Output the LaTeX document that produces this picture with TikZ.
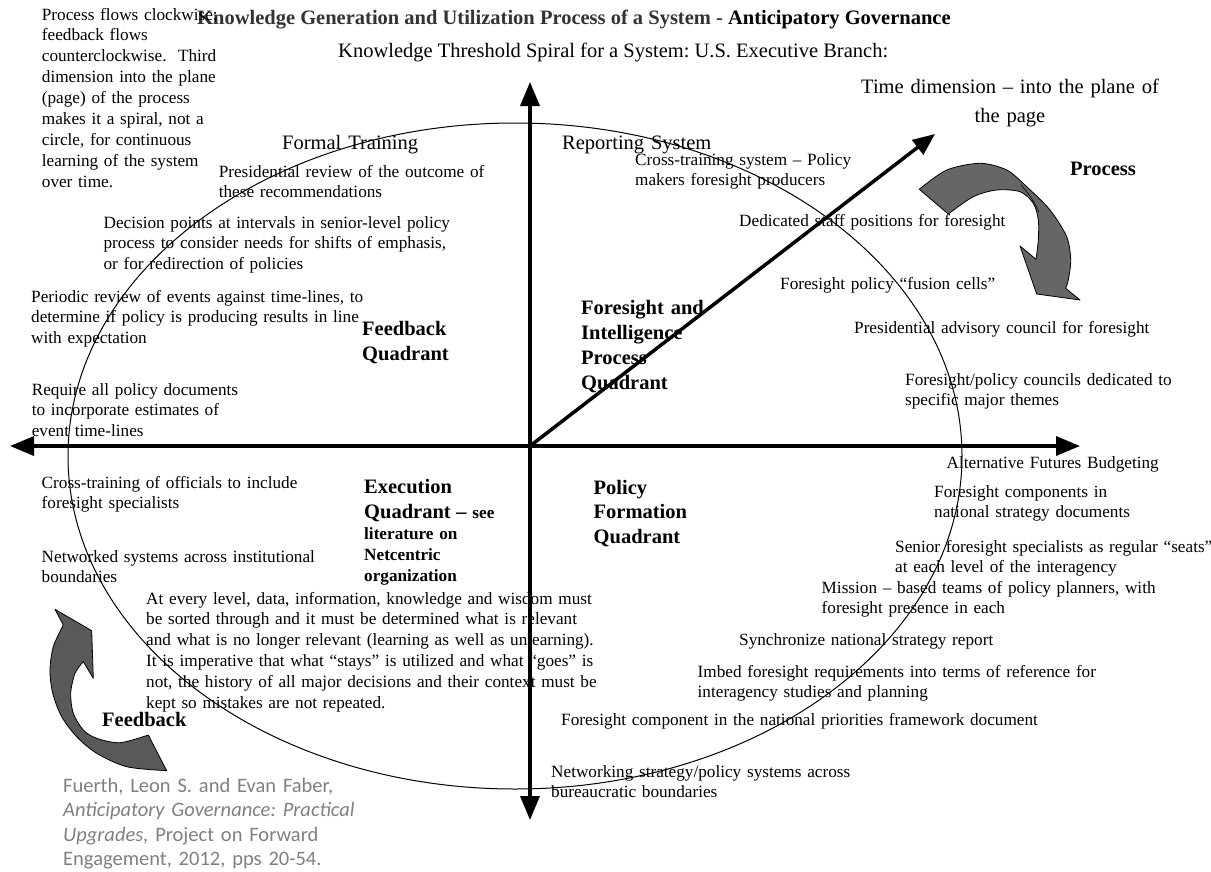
\documentclass[tikz,border=0pt]{standalone}
\usepackage{fontspec}
\setmainfont{Liberation Serif}
\newfontfamily\citefont{Carlito}
\usetikzlibrary{arrows.meta}
\frenchspacing
\begin{document}
\begin{tikzpicture}[x=1pt,y=-1pt,
  txt/.style={anchor=base west, inner sep=0pt, text width=#1, align=left,
              font=\fontsize{17.2}{20.9}\selectfont},
  txt/.default=520pt,
  big/.style={anchor=base west, inner sep=0pt, text width=420pt, align=left,
              font=\fontsize{20.5}{25}\selectfont},
  lbl/.style={anchor=base west, inner sep=0pt, text width=260pt, align=left,
              font=\bfseries\fontsize{20.5}{25}\selectfont},
  axis/.style={line width=3.5pt},
  bigarrow/.style={draw=black, line width=0.8pt, line join=round},
  cite/.style={anchor=base west, inner sep=0pt, text width=330pt, align=left,
               text=black!50, font=\citefont\fontsize{20.5}{24.5}\selectfont}
]
\useasboundingbox (0,0) rectangle (1211,871);

% axes of the quadrant diagram
\coordinate (o)  at (530,446);
\coordinate (xl) at (10,446);
\coordinate (xr) at (1080,446);
\coordinate (yt) at (530,82);
\coordinate (yb) at (530,820);
\coordinate (zt) at (935,134);

% the knowledge cycle
\draw[line width=1pt] (515,456) ellipse [x radius=447, y radius=333];

\draw[axis, {Triangle[length=24pt,width=19pt]}-{Triangle[length=24pt,width=19pt]}] (xl) -- (xr);
\draw[axis, {Triangle[length=24pt,width=19pt]}-{Triangle[length=24pt,width=19pt]}] (yt) -- (yb);
\draw[axis, -{Triangle[length=22pt,width=18pt]}] (o) -- (zt);

% curved block arrow: process (clockwise)
\filldraw[bigarrow, fill=black!60]
  plot[smooth] coordinates {(919.3,189.3) (946.7,170) (980,163.3) (1006.7,170) (1026.7,186.7)
      (1050,210) (1066.7,236.7) (1070.7,260) (1068.3,280) (1065.7,288.3)}
  -- (1080,300) -- (1036.7,294) -- (1020,246)
  -- plot[smooth] coordinates {(1036,259.3) (1038.3,240) (1038.3,220) (1033.3,203.3)
      (1020,191.7) (996.7,190) (973.3,196.7) (948.3,214)}
  -- cycle;
\draw[line width=0.6pt] (1021,185) to[bend left=8] (1039,212);

% curved block arrow: feedback
\filldraw[bigarrow, fill=black!65]
  plot[smooth] coordinates {(166.7,770.7) (126.7,766.7) (96.7,753.3) (76.7,736.7) (61.7,716.7)
      (52.7,693.3) (50,670) (53.3,646.7) (63.3,625)}
  -- (55,609.3) -- (91.7,630.7) -- (93.3,678.3)
  -- plot[smooth] coordinates {(83.3,661.7) (75,673.3) (70.7,693.3) (73.3,713.3) (83.3,730)
      (96.7,738.3) (120,742.7) (148.3,735)}
  -- cycle;

% title lines
\node[anchor=base west, inner sep=0pt, font=\bfseries\fontsize{20.5}{25}\selectfont] (title) at (197,24.5)
  {\textcolor{black!80}{Knowledge Generation and Utilization Process of a System -} Anticipatory Governance};
\node[anchor=base west, inner sep=0pt, font=\fontsize{20.5}{25}\selectfont] (subtitle) at (338,57)
  {Knowledge Threshold Spiral for a System: U.S. Executive Branch:};
\node[anchor=base, inner sep=0pt, text width=320pt, align=center, font=\fontsize{20.5}{29}\selectfont] (time) at (1010,93)
  {Time dimension -- into the plane of\\the page};

% explanatory note
\node[txt] (note) at (41.7,20)
  {Process flows clockwise;\\feedback flows\\counterclockwise.\ \ Third\\dimension into the plane\\(page) of the process\\makes it a spiral, not a\\circle, for continuous\\learning of the system\\over time.};

% quadrant headings
\node[big] (formal) at (282,149) {Formal Training};
\node[big] (report) at (562,149) {Reporting System};
\node[lbl] (process) at (1070,175) {Process};
\node[lbl] (fbq) at (362,335) {Feedback\\Quadrant};
\node[lbl] (fiq) at (581,314) {Foresight and\\Intelligence\\Process\\Quadrant};
\node[anchor=base west, inner sep=0pt, text width=260pt, align=left,
      font=\bfseries\fontsize{17.2}{21}\selectfont] (exq) at (364,493)
  {{\fontsize{20.5}{25}\selectfont Execution}\\[4pt]{\fontsize{20.5}{25}\selectfont Quadrant --} see\\literature on\\Netcentric\\organization};
\node[anchor=base west, inner sep=0pt, text width=260pt, align=left,
      font=\bfseries\fontsize{20.5}{24.5}\selectfont] (pfq) at (593.5,494) {Policy\\Formation\\Quadrant};
\node[lbl] (fbk) at (102,726) {Feedback};

% feedback quadrant items
\node[txt] (t1) at (218.6,177) {Presidential review of the outcome of\\these recommendations};
\node[txt] (t2) at (103.4,228) {Decision points at intervals in senior-level policy\\process to consider needs for shifts of emphasis,\\or for redirection of policies};
\node[txt] (t3) at (31,302) {Periodic review of events against time-lines, to\\determine if policy is producing results in line\\with expectation};
\node[txt] (t4) at (31.6,395) {Require all policy documents\\to incorporate estimates of\\event time-lines};

% foresight and intelligence items
\node[txt] (r1) at (635,165) {Cross-training system -- Policy\\makers foresight producers};
\node[txt] (r2) at (739,226) {Dedicated staff positions for foresight};
\node[txt] (r3) at (780,289) {Foresight policy ``fusion cells''};
\node[txt] (r4) at (854,333) {Presidential advisory council for foresight};
\node[txt] (r5) at (905,385) {Foresight/policy councils dedicated to\\specific major themes};

% policy formation items
\node[txt] (p1) at (946.5,468) {Alternative Futures Budgeting};
\node[txt] (p2) at (934,497) {Foresight components in\\national strategy documents};
\node[txt] (p3) at (895,552) {Senior foresight specialists as regular ``seats''\\at each level of the interagency};
\node[txt] (p4) at (821.5,593) {Mission -- based teams of policy planners, with\\foresight presence in each};
\node[txt] (p5) at (739,645) {Synchronize national strategy report};
\node[txt] (p6) at (697.5,677) {Imbed foresight requirements into terms of reference for\\interagency studies and planning};
\node[txt] (p7) at (561,725) {Foresight component in the national priorities framework document};
\node[txt] (p8) at (551,777) {Networking strategy/policy systems across\\bureaucratic boundaries};

% execution items
\node[txt] (e1) at (41.5,488) {Cross-training of officials to include\\foresight specialists};
\node[txt] (e2) at (41.5,562) {Networked systems across institutional\\boundaries};
\node[txt] (e3) at (146,604) {At every level, data, information, knowledge and wisdom must\\be sorted through and it must be determined what is relevant\\and what is no longer relevant (learning as well as unlearning).\\It is imperative that what ``stays'' is utilized and what ``goes'' is\\not, the history of all major decisions and their context must be\\kept so mistakes are not repeated.};

% source
\node[cite] (src) at (63,792)
  {Fuerth, Leon S. and Evan Faber,\\\textit{Anticipatory Governance: Practical}\\\textit{Upgrades,} Project on Forward\\Engagement, 2012, pps 20-54.};
\end{tikzpicture}
\end{document}
